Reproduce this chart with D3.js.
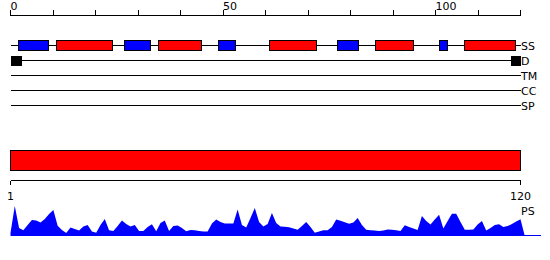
<!DOCTYPE html>
<html>
<head>
<meta charset="utf-8">
<script src="https://cdn.jsdelivr.net/npm/d3@7"></script>
<style>
  body { margin: 0; background: #fff; }
  svg text { font-family: "DejaVu Sans", sans-serif; font-size: 11px; fill: #000; }
  .trk { stroke: #000; stroke-width: 1; shape-rendering: crispEdges; }
</style>
</head>
<body>
<svg id="chart" width="550" height="260"></svg>
<script>
// track names, top to bottom
const trackNames = ['SS', 'D', 'TM', 'CC', 'SP'];

// secondary structure segments [start, end, type]  (H = helix, E = strand)
const ssSegments = [
  [2, 9, 'E'], [11, 24, 'H'], [27, 33, 'E'], [35, 45, 'H'], [49, 53, 'E'],
  [61, 72, 'H'], [77, 82, 'E'], [86, 95, 'H'], [101, 103, 'E'], [107, 119, 'H']
];

// disorder segments
const disorderSegments = [[0, 2.8], [117.7, 120]];

// top ruler
const rulerTicks = d3.range(0, 121, 10);
const rulerLabels = [0, 50, 100];

// full-length bar and its ruler
const seqBar = [1, 120];
const seqTicks = [1, 120];

// PS score per residue 1..120
const psValues = [
  0.10, 1.00, 0.27, 0.19, 0.37, 0.53, 0.52, 0.45, 0.57, 0.73,
  0.87, 0.34, 0.20, 0.10, 0.28, 0.23, 0.18, 0.32, 0.37, 0.15,
  0.11, 0.37, 0.57, 0.19, 0.17, 0.33, 0.52, 0.40, 0.32, 0.37,
  0.17, 0.17, 0.30, 0.39, 0.16, 0.43, 0.52, 0.17, 0.33, 0.35,
  0.27, 0.16, 0.20, 0.19, 0.17, 0.15, 0.15, 0.42, 0.55, 0.47,
  0.42, 0.42, 0.42, 0.88, 0.37, 0.28, 0.60, 0.93, 0.47, 0.32,
  0.40, 0.77, 0.43, 0.32, 0.31, 0.29, 0.25, 0.21, 0.33, 0.47,
  0.30, 0.11, 0.15, 0.19, 0.19, 0.30, 0.55, 0.51, 0.46, 0.41,
  0.45, 0.60, 0.37, 0.21, 0.19, 0.18, 0.17, 0.18, 0.22, 0.21,
  0.19, 0.17, 0.36, 0.30, 0.25, 0.20, 0.67, 0.50, 0.38, 0.55,
  0.71, 0.25, 0.50, 0.74, 0.74, 0.47, 0.21, 0.21, 0.22, 0.38,
  0.50, 0.18, 0.27, 0.37, 0.39, 0.30, 0.33, 0.40, 0.48, 0.56
];

const ssColor = {H: '#ff0000', E: '#0000ff'};

const svg = d3.select('#chart');
const x = d3.scaleLinear().domain([0, 120]).range([10.5, 520.5]);
const xs = d3.scaleLinear().domain([1, 120]).range([10.5, 520.5]);
const yTrack = d3.scalePoint().domain(trackNames).range([45.5, 105.5]);
const yPs = d3.scaleLinear().domain([0, 1]).range([236, 206]);

// top ruler
const gRuler = svg.append('g');
gRuler.append('line').attr('class', 'trk')
  .attr('x1', x(0)).attr('x2', x(120)).attr('y1', 15.5).attr('y2', 15.5);
gRuler.selectAll('.tick').data(rulerTicks).enter()
  .append('line').attr('class', 'trk')
  .attr('x1', d => x(d)).attr('x2', d => x(d))
  .attr('y1', 10).attr('y2', 15.5);
gRuler.selectAll('text').data(rulerLabels).enter()
  .append('text')
  .attr('x', d => x(d)).attr('y', 10)
  .text(d => d);

// tracks
const gTracks = svg.selectAll('.g_track').data(trackNames).enter()
  .append('g')
  .attr('class', 'g_track')
  .attr('transform', d => 'translate(0,' + yTrack(d) + ')');
gTracks.append('line').attr('class', 'trk')
  .attr('x1', x(0)).attr('x2', x(120)).attr('y1', 0).attr('y2', 0);
gTracks.append('text')
  .attr('x', x(120) + 0.5).attr('y', 4)
  .text(d => d);

// SS boxes
svg.append('g').selectAll('rect').data(ssSegments).enter()
  .append('rect')
  .attr('x', d => x(d[0]) - 0.5)
  .attr('y', yTrack('SS') - 5)
  .attr('width', d => x(d[1]) - x(d[0]))
  .attr('height', 10)
  .attr('fill', d => ssColor[d[2]])
  .attr('stroke', '#000')
  .attr('shape-rendering', 'crispEdges');

// disorder boxes
svg.append('g').selectAll('rect').data(disorderSegments).enter()
  .append('rect')
  .attr('x', d => x(d[0]))
  .attr('y', yTrack('D') - 5)
  .attr('width', d => x(d[1]) - x(d[0]))
  .attr('height', 10)
  .attr('fill', '#000')
  .attr('shape-rendering', 'crispEdges');

// full-length bar
svg.append('rect')
  .attr('x', xs(seqBar[0])).attr('y', 150.5)
  .attr('width', xs(seqBar[1]) - xs(seqBar[0]))
  .attr('height', 20)
  .attr('fill', '#ff0000')
  .attr('stroke', '#000')
  .attr('shape-rendering', 'crispEdges');

// bottom ruler
svg.append('line').attr('class', 'trk')
  .attr('x1', xs(1)).attr('x2', xs(120)).attr('y1', 180.5).attr('y2', 180.5);
svg.selectAll('.seqtick').data(seqTicks).enter()
  .append('line').attr('class', 'trk seqtick')
  .attr('x1', d => xs(d)).attr('x2', d => xs(d))
  .attr('y1', 180.5).attr('y2', 185);
svg.selectAll('.seqlabel').data(seqTicks).enter()
  .append('text').attr('class', 'seqlabel')
  .attr('x', d => xs(d)).attr('y', 199.5)
  .attr('text-anchor', 'middle')
  .text(d => d);

// PS area
const psData = psValues.map((v, i) => ({pos: i + 1, v: v}));
psData.push({pos: 121, v: 0});
const area = d3.area()
  .x(d => xs(d.pos))
  .y0(yPs(0))
  .y1(d => yPs(d.v));
svg.append('path')
  .datum(psData)
  .attr('d', area)
  .attr('fill', '#0000ff');
svg.append('line')
  .attr('x1', xs(1)).attr('x2', xs(120) + 20)
  .attr('y1', yPs(0) - 0.5).attr('y2', yPs(0) - 0.5)
  .attr('stroke', '#0000ff')
  .attr('shape-rendering', 'crispEdges');
svg.append('text')
  .attr('x', xs(120) + 0.5).attr('y', 215)
  .text('PS');
</script>
</body>
</html>
